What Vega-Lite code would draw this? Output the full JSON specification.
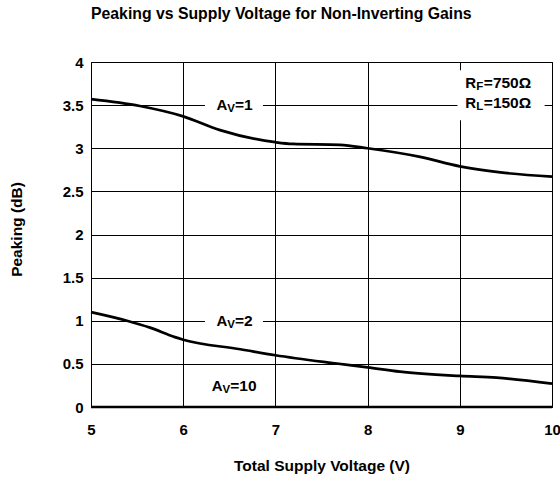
{
  "$schema": "https://vega.github.io/schema/vega-lite/v6.json",
  "width": 461,
  "height": 345,
  "autosize": {"type": "none"},
  "padding": {"left": 91, "top": 62, "right": 8, "bottom": 70},
  "background": "white",
  "title": {"text": "Peaking vs Supply Voltage for Non-Inverting Gains", "anchor": "start", "frame": "group", "fontSize": 15.8, "fontWeight": "bold", "font": "Liberation Sans", "color": "black", "offset": 32},
  "datasets": {
    "curves": [
      {"v": 5, "peak": 3.57, "series": "AV=1"},
      {"v": 5.53, "peak": 3.49, "series": "AV=1"},
      {"v": 6, "peak": 3.37, "series": "AV=1"},
      {"v": 6.4, "peak": 3.21, "series": "AV=1"},
      {"v": 7, "peak": 3.07, "series": "AV=1"},
      {"v": 7.19, "peak": 3.05, "series": "AV=1"},
      {"v": 7.7, "peak": 3.04, "series": "AV=1"},
      {"v": 8, "peak": 3.0, "series": "AV=1"},
      {"v": 8.57, "peak": 2.9, "series": "AV=1"},
      {"v": 9, "peak": 2.79, "series": "AV=1"},
      {"v": 9.44, "peak": 2.72, "series": "AV=1"},
      {"v": 10, "peak": 2.67, "series": "AV=1"},
      {"v": 5, "peak": 1.1, "series": "AV=2"},
      {"v": 5.39, "peak": 1.0, "series": "AV=2"},
      {"v": 5.64, "peak": 0.92, "series": "AV=2"},
      {"v": 5.91, "peak": 0.81, "series": "AV=2"},
      {"v": 6, "peak": 0.78, "series": "AV=2"},
      {"v": 6.62, "peak": 0.67, "series": "AV=2"},
      {"v": 7, "peak": 0.6, "series": "AV=2"},
      {"v": 7.62, "peak": 0.51, "series": "AV=2"},
      {"v": 8, "peak": 0.46, "series": "AV=2"},
      {"v": 8.35, "peak": 0.41, "series": "AV=2"},
      {"v": 9, "peak": 0.36, "series": "AV=2"},
      {"v": 9.4, "peak": 0.34, "series": "AV=2"},
      {"v": 10, "peak": 0.27, "series": "AV=2"},
      {"v": 5, "peak": 0, "series": "AV=10"},
      {"v": 10, "peak": 0, "series": "AV=10"}
    ],
    "boxes": [
      {"x1": 6.236, "x2": 6.865, "y1": 3.42, "y2": 3.58},
      {"x1": 6.236, "x2": 6.865, "y1": 0.92, "y2": 1.08},
      {"x1": 8.975, "x2": 9.92, "y1": 3.326, "y2": 3.905}
    ],
    "notes": [
      {"x": 6.36, "y": 3.5, "main": "A", "sub": "V", "rest": "=1"},
      {"x": 6.36, "y": 1.0, "main": "A", "sub": "V", "rest": "=2"},
      {"x": 6.31, "y": 0.24, "main": "A", "sub": "V", "rest": "=10"},
      {"x": 9.06, "y": 3.76, "main": "R", "sub": "F", "rest": "=750Ω"},
      {"x": 9.06, "y": 3.53, "main": "R", "sub": "L", "rest": "=150Ω"}
    ]
  },
  "layer": [
    {
      "data": {"name": "boxes"},
      "mark": {"type": "rect", "fill": "white", "stroke": null},
      "encoding": {
        "x": {"field": "x1", "type": "quantitative", "scale": {"domain": [5, 10]}, "title": "Total Supply Voltage (V)"},
        "x2": {"field": "x2"},
        "y": {"field": "y1", "type": "quantitative", "scale": {"domain": [0, 4]}, "title": "Peaking (dB)"},
        "y2": {"field": "y2"}
      }
    },
    {
      "data": {"name": "curves"},
      "mark": {"type": "line", "interpolate": "monotone", "color": "black", "strokeCap": "butt"},
      "encoding": {
        "x": {"field": "v", "type": "quantitative", "scale": {"domain": [5, 10]}, "title": "Total Supply Voltage (V)"},
        "y": {"field": "peak", "type": "quantitative", "scale": {"domain": [0, 4]}, "title": "Peaking (dB)"},
        "strokeWidth": {"field": "series", "type": "ordinal", "scale": {"domain": ["AV=1", "AV=2", "AV=10"], "range": [2.7, 2.7, 4.5]}, "legend": null}
      }
    },
    {
      "data": {"name": "notes"},
      "mark": {"type": "text", "align": "left", "baseline": "middle", "fontSize": 15, "fontWeight": "bold", "font": "Liberation Sans", "color": "black"},
      "encoding": {
        "x": {"field": "x", "type": "quantitative", "title": "Total Supply Voltage (V)"},
        "y": {"field": "y", "type": "quantitative", "title": "Peaking (dB)"},
        "text": {"field": "main"}
      }
    },
    {
      "data": {"name": "notes"},
      "mark": {"type": "text", "align": "left", "baseline": "middle", "fontSize": 11.5, "fontWeight": "bold", "font": "Liberation Sans", "color": "black", "dx": 10.8, "dy": 4},
      "encoding": {
        "x": {"field": "x", "type": "quantitative", "title": "Total Supply Voltage (V)"},
        "y": {"field": "y", "type": "quantitative", "title": "Peaking (dB)"},
        "text": {"field": "sub"}
      }
    },
    {
      "data": {"name": "notes"},
      "mark": {"type": "text", "align": "left", "baseline": "middle", "fontSize": 15.5, "fontWeight": "bold", "font": "Liberation Sans", "color": "black", "dx": 18.5},
      "encoding": {
        "x": {"field": "x", "type": "quantitative", "title": "Total Supply Voltage (V)"},
        "y": {"field": "y", "type": "quantitative", "title": "Peaking (dB)"},
        "text": {"field": "rest"}
      }
    }
  ],
  "config": {
    "font": "Liberation Sans",
    "view": {"stroke": "black", "strokeWidth": 1},
    "axis": {
      "grid": true, "gridColor": "black", "gridOpacity": 1, "gridWidth": 1,
      "domain": false, "ticks": false,
      "labelFont": "Liberation Sans", "labelFontSize": 15, "labelFontWeight": "bold", "labelColor": "black",
      "labelFlush": false, "labelOverlap": false,
      "titleFont": "Liberation Sans", "titleFontSize": 15.5, "titleFontWeight": "bold", "titleColor": "black"
    },
    "axisX": {"tickCount": 5, "labelPadding": 15, "titleY": 58, "titleBaseline": "middle"},
    "axisY": {"tickCount": 8, "format": ".1~f", "labelPadding": 8, "titleX": -74.5, "titleY": 167, "titleAngle": 270, "titleBaseline": "middle", "titleAlign": "center"}
  }
}
